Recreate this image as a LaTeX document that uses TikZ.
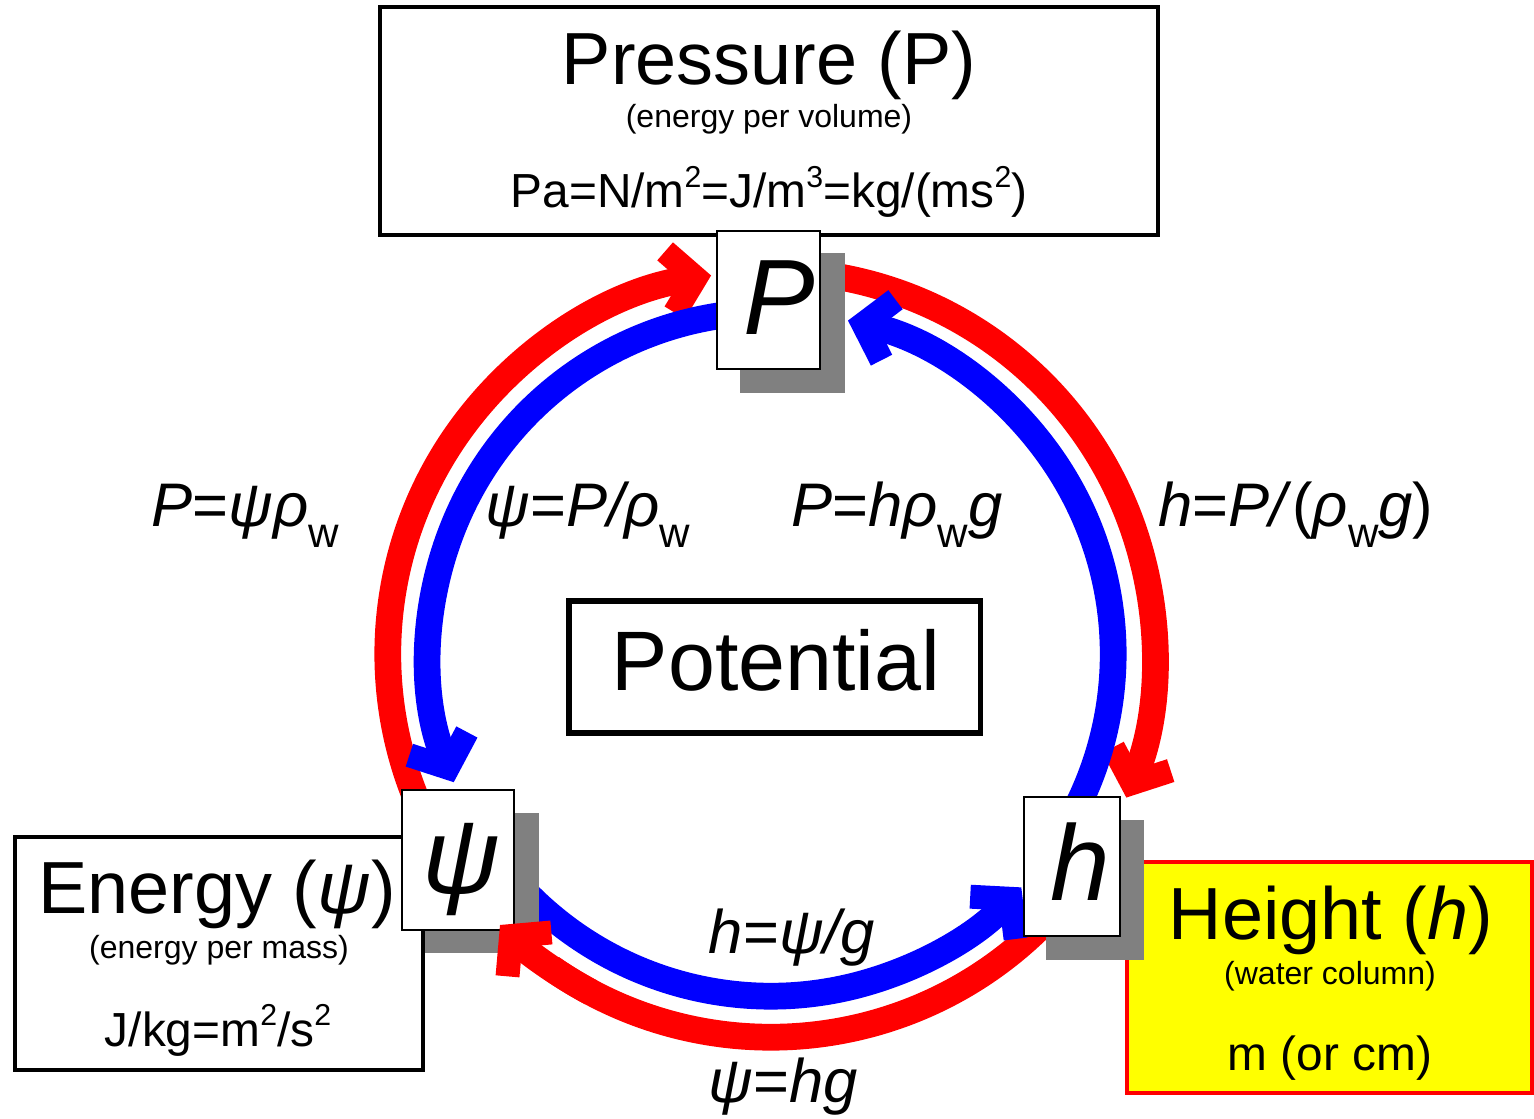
\documentclass[tikz,border=0pt]{standalone}
\usepackage{fontspec}
\setmainfont{Liberation Sans}
\usetikzlibrary{arrows.meta}
\definecolor{cred}{RGB}{255,0,0}
\definecolor{cblue}{RGB}{0,0,255}
\definecolor{cyel}{RGB}{255,255,0}
\definecolor{cshadow}{RGB}{128,128,128}
\newcommand{\fsz}[1]{\fontsize{#1}{#1}\selectfont}
\newcommand{\wsub}{\raisebox{-0.33em}{\upshape\fontsize{12pt}{12pt}\selectfont w}}
\newcommand{\supr}[1]{\raisebox{0.42em}{\fontsize{8.6pt}{8.6pt}\selectfont #1}}
\begin{document}
\begin{tikzpicture}[x=0.01cm,y=0.01cm,
  every node/.style={inner sep=0pt,outer sep=0pt},
  bigbox/.style={draw=black,line width=1.2pt,fill=white},
  unitbox/.style={draw=black,line width=0.7pt,fill=white},
  shadowbox/.style={fill=cshadow},
  tip/.style={-{Straight Barb[length=2.6mm,width=6.2mm,line width=6.8pt]}},
  redarc/.style={draw=cred,line width=7.6pt},
  bluearc/.style={draw=cblue,line width=7.6pt},
  head/.style={anchor=base,font=\fsz{21pt}},
  subtxt/.style={anchor=base,font=\fsz{9.1pt}},
  unittxt/.style={anchor=base,font=\fsz{13.6pt}},
  eq/.style={anchor=base,font=\fsz{17.5pt}},
  lbl/.style={anchor=base,font=\fsz{30.5pt}\itshape}]
\useasboundingbox (0,0) rectangle (1534,-1119);
% big boxes
\node[bigbox,minimum width=7.78cm,minimum height=2.28cm] (pbox) at (769,-121) {};
\node[bigbox,minimum width=4.08cm,minimum height=2.33cm] (ebox) at (219,-953.5) {};
\node[draw=cred,fill=cyel,line width=1.2pt,minimum width=4.05cm,minimum height=2.31cm] (hbox) at (1329.5,-977.5) {};
\node[draw=black,line width=1.5pt,minimum width=4.11cm,minimum height=1.32cm] (potbox) at (774.5,-667) {};
% arcs
\coordinate (O) at (771,-654);
\draw[redarc,tip] ([shift={(205:3.83cm)}]O) arc[start angle=205,end angle=99,radius=3.83cm];
\draw[redarc,tip] ([shift={(80:3.83cm)}]O) arc[start angle=80,end angle=-22,radius=3.83cm];
\draw[redarc] ([shift={(-45:3.83cm)}]O) arc[start angle=-45,end angle=-125,radius=3.83cm];
\draw[bluearc,tip] ([shift={(95:3.42cm)}]O) arc[start angle=95,end angle=202,radius=3.42cm];
\draw[bluearc,tip] ([shift={(-137:3.42cm)}]O) arc[start angle=-137,end angle=-43,radius=3.42cm];
\draw[bluearc,tip] ([shift={(-28:3.42cm)}]O) arc[start angle=-28,end angle=77,radius=3.42cm];
% shadows
\node[shadowbox,minimum width=1.05cm,minimum height=1.40cm] (Psh) at (792.5,-323) {};
\node[shadowbox,minimum width=1.14cm,minimum height=1.40cm] (Ysh) at (482,-883) {};
\node[shadowbox,minimum width=0.98cm,minimum height=1.40cm] (Hsh) at (1095,-890) {};
% unit boxes
\node[unitbox,minimum width=1.03cm,minimum height=1.38cm] (Pn) at (768.5,-300) {};
\node[unitbox,minimum width=1.12cm,minimum height=1.40cm] (Yn) at (458,-860) {};
\node[unitbox,minimum width=0.96cm,minimum height=1.39cm] (Hn) at (1072,-866.5) {};
\node[lbl] (Pl) at (779,-335) {P};
\node[lbl] (Yl) at (462,-893) {ψ};
\node[lbl] (Hl) at (1080,-900) {h};
% red tip at psi
\draw[redarc,tip] ([shift={(-118:3.83cm)}]O) arc[start angle=-118,end angle=-135,radius=3.83cm];
% box texts
\node[head] (pt1) at (769,-85) {Pressure (P)};
\node[subtxt] (pt2) at (769,-128) {(energy per volume)};
\node[unittxt] (pt3) at (769,-208) {Pa=N/m\supr{2}=J/m\supr{3}=kg/(ms\supr{2})};
\node[head] (et1) at (217,-913) {Energy (\textit{ψ})};
\node[subtxt] (et2) at (219,-958) {(energy per mass)};
\node[unittxt] (et3) at (218,-1046) {J/kg=m\supr{2}/s\supr{2}};
\node[head] (ht1) at (1331,-939) {Height (\textit{h})};
\node[subtxt] (ht2) at (1330,-984) {(water column)};
\node[unittxt] (ht3) at (1330,-1070) {m (or cm)};
\node[anchor=base,font=\fsz{24pt}] (pot) at (776,-690) {Potential};
% equations
\node[eq] (e1) at (245,-527) {\textit{P}=\textit{ψρ}\wsub};
\node[eq] (e2) at (588,-527) {\textit{ψ}=\textit{P/ρ}\wsub};
\node[eq] (e3) at (897,-527) {\textit{P}=\textit{hρ}\wsub\textit{g}};
\node[eq] (e4) at (1296,-527) {\textit{h}=\textit{P/}(\textit{ρ}\wsub\textit{g})};
\node[eq] (e5) at (792,-953) {\textit{h}=\textit{ψ/g}};
\node[eq] (e6) at (783,-1102) {\textit{ψ}=\textit{hg}};
\end{tikzpicture}
\end{document}
